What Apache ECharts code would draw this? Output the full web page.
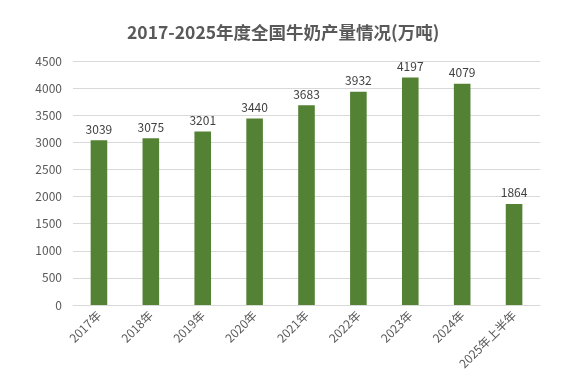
<!DOCTYPE html>
<html><head><meta charset="utf-8">
<script src="https://cdn.jsdelivr.net/npm/echarts@6/dist/echarts.min.js"></script>
<style>html,body{margin:0;padding:0;background:#fff}#c{width:570px;height:379px}</style>
</head><body><div id="c"></div>
<script>
const categories = ["2017年","2018年","2019年","2020年","2021年","2022年","2023年","2024年","2025年上半年"];
const production = [3039,3075,3201,3440,3683,3932,4197,4079,1864];
const yTicks = {min:0, max:4500, interval:500};
const chart = echarts.init(document.getElementById('c'));
const font = '"Noto Sans CJK SC","Noto Sans",sans-serif';
chart.setOption({
  animation:false,
  title:{text:"2017-2025年度全国牛奶产量情况(万吨)",left:122,top:19,
    textStyle:{fontFamily:font,fontSize:17.5,fontWeight:'bold',color:'#595959'}},
  grid:{left:73,right:30,top:61,bottom:74},
  xAxis:{type:'category',data:categories,
    axisLine:{lineStyle:{color:'#d9d9d9'}},axisTick:{show:false},
    axisLabel:{rotate:45,color:'#595959',fontFamily:font,fontSize:12,margin:8,interval:0}},
  yAxis:{type:'value',min:yTicks.min,max:yTicks.max,interval:yTicks.interval,
    axisLine:{show:false},axisTick:{show:false},
    splitLine:{lineStyle:{color:'#d9d9d9'}},
    axisLabel:{color:'#595959',fontFamily:font,fontSize:12,margin:11,formatter:v=>String(v)}},
  series:[{type:'bar',data:production,barWidth:'32%',
    itemStyle:{color:'#548235'},
    label:{show:true,position:'top',distance:5,color:'#404040',fontFamily:font,fontSize:12}}]
});
</script></body></html>
